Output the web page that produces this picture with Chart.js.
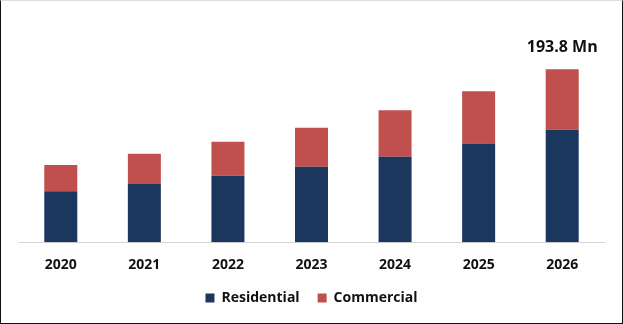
<!DOCTYPE html>
<html lang="en">
<head>
    <meta charset="UTF-8">
    <title>Market Size</title>
    <script src="https://cdn.jsdelivr.net/npm/chart.js"></script>
    <style>
        body {
            margin: 0;
            background: #ffffff;
        }
        #wrap {
            position: relative;
            width: 623px;
            height: 324px;
        }
        #frame {
            position: absolute;
            left: 0;
            top: 0;
            width: 623px;
            height: 324px;
            box-sizing: border-box;
            border: 1px solid #111;
            border-top-color: #ddd;
            pointer-events: none;
        }
    </style>
</head>
<body>
    <div id="wrap">
        <canvas id="myChart" width="623" height="324"></canvas>
        <div id="frame"></div>
    </div>

    <script>
        const years = ['2020', '2021', '2022', '2023', '2024', '2025', '2026'];
        const residential = [57.2, 65.1, 74.5, 84.7, 95.9, 110.6, 126.1];
        const commercial = [29.4, 33.9, 38.0, 43.6, 52.0, 58.7, 67.7];
        const totalLabel = '193.8 Mn';

        // text over the last bar
        const topLabel = {
            id: 'topLabel',
            afterDatasetsDraw(chart) {
                const meta = chart.getDatasetMeta(1);
                const bar = meta.data[meta.data.length - 1];
                const ctx = chart.ctx;
                ctx.save();
                ctx.font = 'bold 16px "Open Sans"';
                ctx.fillStyle = '#111';
                ctx.textAlign = 'center';
                ctx.textBaseline = 'middle';
                ctx.fillText(totalLabel, bar.x, bar.y - 22);
                ctx.restore();
            }
        };

        // legend keeps wide gaps between items but takes less height above the row
        const trim = 6;
        const legendTrim = {
            id: 'legendTrim',
            afterInit(chart) {
                const lg = chart.legend;
                const fit = lg.fit;
                const draw = lg.draw;
                lg.fit = function () {
                    fit.call(this);
                    this.height -= trim;
                };
                lg.draw = function () {
                    this.ctx.save();
                    this.ctx.translate(0, -trim);
                    draw.call(this);
                    this.ctx.restore();
                };
            }
        };

        const ctx = document.getElementById('myChart').getContext('2d');
        const myChart = new Chart(ctx, {
            type: 'bar',
            data: {
                labels: years,
                datasets: [{
                    label: 'Residential',
                    data: residential,
                    backgroundColor: '#1c375e'
                }, {
                    label: 'Commercial',
                    data: commercial,
                    backgroundColor: '#c0504d'
                }]
            },
            options: {
                responsive: false,
                animation: false,
                layout: {
                    padding: { left: 19, right: 19, top: 12, bottom: 9 }
                },
                datasets: {
                    bar: {
                        categoryPercentage: 1,
                        barPercentage: 0.395
                    }
                },
                scales: {
                    x: {
                        stacked: true,
                        grid: { display: false },
                        border: { display: true, color: '#d4d4d4', width: 1 },
                        ticks: {
                            color: '#111',
                            padding: 6,
                            font: { family: '"Open Sans"', size: 14, weight: 'bold' }
                        }
                    },
                    y: {
                        stacked: true,
                        display: false,
                        min: 0,
                        max: 258
                    }
                },
                plugins: {
                    tooltip: { enabled: false },
                    legend: {
                        position: 'bottom',
                        labels: {
                            boxWidth: 9,
                            boxHeight: 9,
                            padding: 18,
                            color: '#111',
                            font: { family: '"Open Sans"', size: 14, weight: 'bold' }
                        }
                    }
                }
            },
            plugins: [topLabel, legendTrim]
        });
    </script>
</body>
</html>
